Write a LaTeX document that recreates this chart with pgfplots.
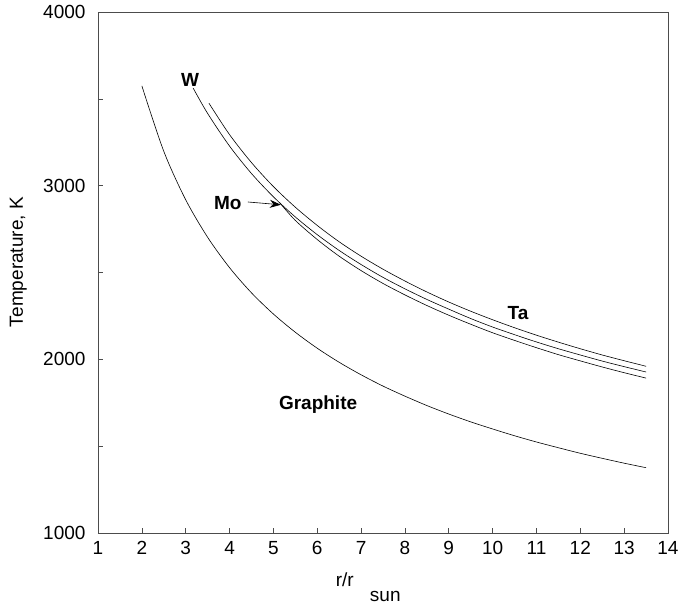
\documentclass[border=0pt]{standalone}
\usepackage{pgfplots}
\pgfplotsset{compat=1.18}
\usepackage{fontspec}
\setmainfont{Liberation Sans}
\usetikzlibrary{arrows.meta}
\begin{document}
\begin{tikzpicture}
\begin{axis}[
  scale only axis,
  width=570pt, height=521pt,
  xmin=1, xmax=14, ymin=1000, ymax=4000,
  xtick={1,2,...,14},
  ytick={1000,2000,3000,4000},
  minor ytick={1500,2500,3500},
  tick pos=left,
  tick align=inside,
  major tick length=5pt, minor tick length=5pt,
  axis line style={draw=black!70, line width=0.8pt},
  every tick/.style={black!70, line width=0.6pt},
  /pgf/number format/assume math mode=true,
  /pgf/number format/1000 sep={},
  tick label style={font=\fontsize{19}{22}\selectfont},
  xticklabel style={yshift=-5pt},
  yticklabel style={xshift=-9pt},
  ylabel={Temperature, K},
  ylabel style={font=\fontsize{19}{22}\selectfont, at={(axis description cs:-0.14,0.52)}, anchor=center},
  clip=false,
]
\addplot[black, line width=0.6pt, smooth] coordinates {
(2,3575) (2.5,3198) (3,2919) (3.5,2703) (4,2528) (4.5,2383) (5,2261) (5.5,2156) (6,2064) (6.5,1983) (7,1911) (7.5,1846) (8,1788) (8.5,1734) (9,1685) (9.5,1640) (10,1599) (10.5,1560) (11,1524) (11.5,1491) (12,1459) (12.5,1430) (13,1402) (13.5,1376)
};
\addplot[black, line width=0.6pt, smooth] coordinates {
(3.53,3475) (4,3294) (4.5,3133) (5,2995) (5.5,2876) (6,2771) (6.5,2677) (7,2594) (7.5,2519) (8,2451) (8.5,2388) (9,2330) (9.5,2277) (10,2228) (10.5,2182) (11,2139) (11.5,2099) (12,2061) (12.5,2025) (13,1992) (13.5,1960)
};
\addplot[black, line width=0.6pt, smooth] coordinates {
(3.17,3562) (3.5,3416) (4,3228) (4.5,3070) (5,2936) (5.5,2820) (6,2718) (6.5,2627) (7,2546) (7.5,2472) (8,2406) (8.5,2345) (9,2289) (9.5,2235) (10,2186) (10.5,2142) (11,2100) (11.5,2061) (12,2025) (12.5,1990) (13,1958) (13.5,1927)
};
\addplot[black, line width=0.6pt, smooth] coordinates {
(5.15,2900) (5.5,2800) (6,2690) (6.5,2594) (7,2511) (7.5,2437) (8,2371) (8.5,2310) (9,2254) (9.5,2202) (10,2153) (10.5,2109) (11,2067) (11.5,2027) (12,1991) (12.5,1956) (13,1923) (13.5,1892)
};
\node[font=\fontsize{19}{22}\selectfont\bfseries] at (axis cs:3.1,3608) {W};
\node[font=\fontsize{19}{22}\selectfont\bfseries] at (axis cs:3.96,2900) {Mo};
\node[font=\fontsize{19}{22}\selectfont\bfseries] at (axis cs:10.58,2267) {Ta};
\node[font=\fontsize{19}{22}\selectfont\bfseries] at (axis cs:6.02,1737) {Graphite};
\draw[black, line width=0.6pt, -{Stealth[length=11pt,width=8pt]}] (axis cs:4.42,2906) -- (axis cs:5.17,2890);
\node[font=\fontsize{19}{22}\selectfont] at (axis description cs:0.433,-0.090) {r/r};
\node[font=\fontsize{19}{22}\selectfont] at (axis description cs:0.504,-0.121) {sun};
\end{axis}
\pgfresetboundingbox
\path[use as bounding box] ([xshift=-98pt,yshift=-72pt]current axis.south west) rectangle ([xshift=10pt,yshift=12pt]current axis.north east);
\end{tikzpicture}
\end{document}
